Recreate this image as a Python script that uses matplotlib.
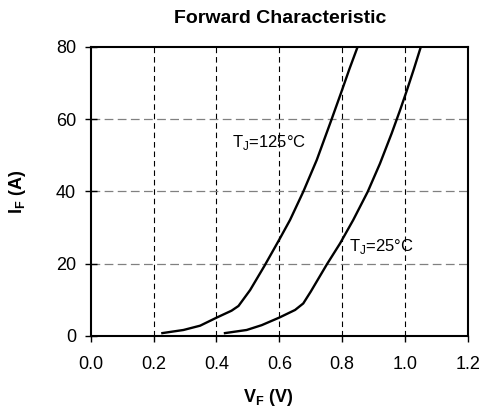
import matplotlib
matplotlib.use('Agg')
import matplotlib.pyplot as plt

plt.rcParams['font.family'] = ['Liberation Sans', 'DejaVu Sans']
plt.rcParams['mathtext.fontset'] = 'custom'
plt.rcParams['mathtext.rm'] = 'Liberation Sans'
plt.rcParams['mathtext.bf'] = 'Liberation Sans:bold'

# curves
vf_125 = [0.228, 0.295, 0.348, 0.401, 0.448, 0.470, 0.507, 0.552, 0.600, 0.634,
          0.676, 0.719, 0.766, 0.796, 0.823, 0.849]
if_125 = [0.8, 1.66, 2.85, 5.1, 7.0, 8.3, 12.7, 19.3, 26.7, 32.1,
          39.9, 48.7, 59.9, 67.2, 73.9, 80.0]
vf_25 = [0.427, 0.496, 0.544, 0.600, 0.650, 0.676, 0.700, 0.751, 0.793, 0.835,
         0.881, 0.920, 0.957, 0.984, 1.005, 1.028, 1.050]
if_25 = [0.8, 1.66, 3.0, 5.1, 7.2, 9.0, 12.3, 19.8, 25.6, 32.1,
         39.9, 47.7, 56.0, 62.5, 67.8, 73.9, 80.0]

x_ticks = [0.0, 0.2, 0.4, 0.6, 0.8, 1.0, 1.2]
y_ticks = [0, 20, 40, 60, 80]

fig = plt.figure(figsize=(4.85, 4.12), dpi=100)
ax = fig.add_axes([0.187, 0.1845, 0.778, 0.702])

ax.plot(vf_125, if_125, color='black', lw=1.7, solid_joinstyle='round')
ax.plot(vf_25, if_25, color='black', lw=1.7, solid_joinstyle='round')

ax.set_xlim(0, 1.2)
ax.set_ylim(0, 80)
ax.set_xticks(x_ticks)
ax.set_xticklabels(['%.1f' % v for v in x_ticks])
ax.set_yticks(y_ticks)

for x in x_ticks[1:-1]:
    ax.axvline(x, color='black', lw=0.8, dashes=(5, 3.5), zorder=0)
for y in y_ticks[1:-1]:
    ax.axhline(y, color='#808080', lw=0.9, dashes=(7, 3.5), zorder=0)

for s in ax.spines.values():
    s.set_linewidth(1.5)

ax.tick_params(axis='x', direction='out', length=4.5, width=1, labelsize=13, pad=10)
ax.tick_params(axis='y', direction='inout', length=9, width=1, labelsize=13, pad=6)

ax.text(0.448, 53.5, r'T$_\mathrm{J}$=125°C', fontsize=12, va='center', ha='left')
ax.text(0.82, 24.7, r'T$_\mathrm{J}$=25°C', fontsize=12, va='center', ha='left')

fig.text(0.5785, 0.945, 'Forward Characteristic', fontsize=14, fontweight='bold',
         ha='center', va='baseline')
fig.text(0.553, 0.036, r'$\mathbf{V_F}$ (V)', fontsize=13, fontweight='bold',
         ha='center', va='center')
fig.text(0.036, 0.535, r'$\mathbf{I_F}$ (A)', fontsize=13, fontweight='bold',
         ha='center', va='center', rotation=90)

fig.savefig('out.png', dpi=100)
